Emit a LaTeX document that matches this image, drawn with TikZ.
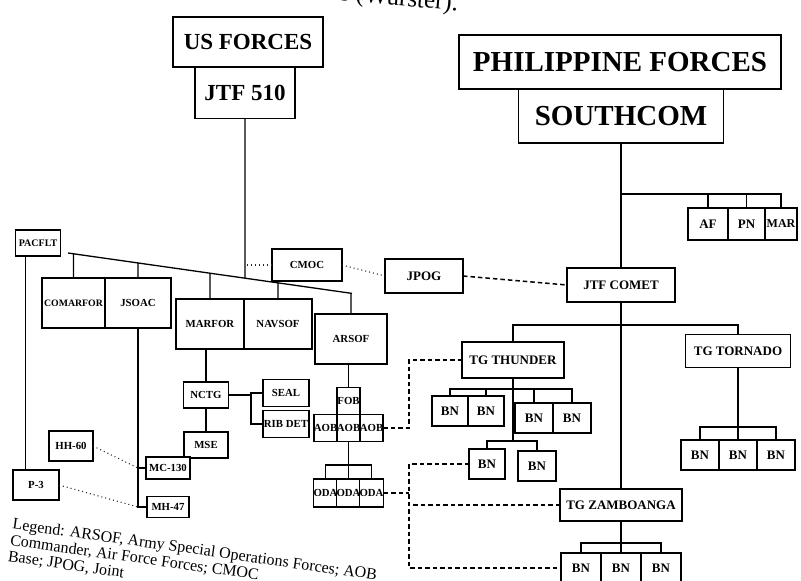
\documentclass[tikz,border=0pt]{standalone}
\usepackage{fontspec}
\setmainfont{Liberation Serif}
\begin{document}
\begin{tikzpicture}[
    x=1pt, y=-1pt,
    box/.style={draw, fill=white, line width=1.5pt, inner sep=0pt, outer sep=0pt, align=center, font=\fontsize{10.8}{12}\selectfont\bfseries},
    tgbox/.style={box, font=\fontsize{13}{15}\selectfont\bfseries},
    topbox/.style={box, line width=1.7pt},
    ln/.style={line width=1.3pt},
    dsh/.style={line width=1.5pt, dash pattern=on 4.5pt off 3pt},
    dot/.style={line width=1.1pt, dash pattern=on 1pt off 3pt, black!85}
]
\useasboundingbox (0,0) rectangle (801,581);
\clip (0,0) rectangle (801,581);

\node[anchor=base east, rotate=-5, font=\fontsize{25}{28}\selectfont] (title) at (461,11) {Operations (Wurster).};

\node[topbox, minimum width=150pt, minimum height=50pt, font=\fontsize{23}{26}\selectfont\bfseries] (usf) at (248,42) {US FORCES};
\node[topbox, minimum width=100pt, minimum height=51pt, font=\fontsize{23}{26}\selectfont\bfseries] (jtf) at (245,93) {JTF 510};
\node[topbox, minimum width=322pt, minimum height=54pt, font=\fontsize{29}{32}\selectfont\bfseries] (phf) at (620,62) {PHILIPPINE FORCES};
\node[topbox, minimum width=205pt, minimum height=54pt, font=\fontsize{29}{32}\selectfont\bfseries] (sc) at (621,116) {SOUTHCOM};

% US side
\node[box, minimum width=45pt, minimum height=26pt, font=\fontsize{10}{11}\selectfont\bfseries] (pacflt) at (38,243) {PACFLT};
\node[box, minimum width=70pt, minimum height=32pt] (cmoc) at (307,265) {CMOC};
\node[tgbox, minimum width=78pt, minimum height=34pt] (jpog) at (424,276) {JPOG};
\node[box, minimum width=63pt, minimum height=50pt, font=\fontsize{9.8}{11}\selectfont\bfseries] (comarfor) at (73.5,303) {COMARFOR};
\node[box, minimum width=66pt, minimum height=50pt] (jsoac) at (138,303) {JSOAC};
\node[box, minimum width=68pt, minimum height=50pt] (marfor) at (210,324) {MARFOR};
\node[box, minimum width=68pt, minimum height=50pt] (navsof) at (278,324) {NAVSOF};
\node[box, minimum width=72pt, minimum height=50pt] (arsof) at (351,339) {ARSOF};
\node[box, minimum width=45pt, minimum height=26pt] (nctg) at (206,395) {NCTG};
\node[box, minimum width=44pt, minimum height=26pt] (mse) at (206,445) {MSE};
\node[box, minimum width=46pt, minimum height=27pt] (seal) at (286,393) {SEAL};
\node[box, minimum width=46pt, minimum height=27pt] (rib) at (286,424) {RIB DET};
\node[box, minimum width=23pt, minimum height=27pt] (fob) at (348.5,401) {FOB};
\foreach \n/\x in {aob1/325.5, aob2/348.5, aob3/371.5}
  \node[box, minimum width=23pt, minimum height=27pt] (\n) at (\x,428) {AOB};
\foreach \n/\x in {oda1/325.5, oda2/348.5, oda3/371.5}
  \node[box, minimum width=23pt, minimum height=28pt] (\n) at (\x,493) {ODA};
\node[box, minimum width=44pt, minimum height=30pt] (hh60) at (71,446) {HH-60};
\node[box, minimum width=46pt, minimum height=30pt] (p3) at (36,485) {P-3};
\node[box, minimum width=44pt, minimum height=22pt] (mc130) at (168,468) {MC-130};
\node[box, minimum width=42pt, minimum height=21pt] (mh47) at (168,507) {MH-47};

% Philippine side
\node[tgbox, minimum width=40pt, minimum height=32pt] (af) at (708,224) {AF};
\node[tgbox, minimum width=37pt, minimum height=32pt] (pn) at (746.5,224) {PN};
\node[tgbox, minimum width=32pt, minimum height=32pt, font=\fontsize{12}{14}\selectfont\bfseries] (mar) at (781,224) {MAR};
\node[tgbox, minimum width=108pt, minimum height=34pt] (jtfc) at (621,285) {JTF COMET};
\node[tgbox, minimum width=102pt, minimum height=36pt] (tgth) at (513,360) {TG THUNDER};
\node[tgbox, minimum width=105pt, minimum height=33pt] (tgto) at (738,351) {TG TORNADO};
\node[tgbox, minimum width=122pt, minimum height=32pt] (tgz) at (621,505) {TG ZAMBOANGA};
\foreach \n/\x/\y/\w in {bn1/450/411/36, bn2/486/411/36, bn3/534/418/38, bn4/572/418/38,
    bn5/487/464/36, bn6/537/466/38, bn7/700/455/38, bn8/738/455/38, bn9/776/455/38,
    bz1/581/568/40, bz2/621/568/40, bz3/661/568/40}
  \node[tgbox, minimum width=\w pt, minimum height=30pt] (\n) at (\x,\y) {BN};

% US links
\coordinate (b1l) at (68,253);
\coordinate (b1r) at (352,293.4);
\draw[ln] (b1l) -- (b1r);
\draw[ln] (jtf.south) -- (intersection of jtf.south--jtf.north and b1l--b1r);
\foreach \n in {comarfor,jsoac,marfor,navsof,arsof}
  \draw[ln] (\n.north) -- (intersection of \n.north--\n.south and b1l--b1r);
\draw[dot] (cmoc.west) -- (cmoc.west -| jtf.south);
\draw[dot] (cmoc.east) -- (jpog.west);
\draw[dsh] (jpog.east) -- (jtfc.west);
\coordinate (pv) at ([xshift=10pt]pacflt.south west);
\draw[ln] (pv) -- (pv |- p3.north);
\draw[ln] (jsoac.south) |- (mh47.west);
\draw[ln] (mc130.west) -- (mc130.west -| jsoac.south);
\draw[dot] (hh60.east) -- (jsoac.south |- mc130.west);
\draw[dot] (p3.east) -- (jsoac.south |- mh47.west);
\draw[ln] (nctg.north) -- (nctg.north |- marfor.south);
\draw[ln] (nctg.south) -- (mse.north);
\coordinate (sbr) at (251,400);
\draw[ln] (nctg.east) -- (nctg.east -| sbr);
\draw[ln] (seal.west) -- (seal.west -| sbr) -- (rib.west -| sbr) -- (rib.west);
\draw[ln] (fob.north) -- (fob.north |- arsof.south);
\coordinate (odab) at (0,465);
\draw[ln] (aob2.south) -- (oda2.north);
\draw[ln] (oda1.north) |- (oda3.north |- odab) -- (oda3.north);

% liaison lines
\coordinate (dv) at (409,0);
\draw[dsh] (aob3.east) -| (tgth.west -| dv) -- (tgth.west);
\draw[dsh] (oda3.east) -- (oda3.east -| dv);
\draw[dsh] (bn5.west) -| (dv |- bz1.west) -- (bz1.west);
\draw[dsh] (tgz.west) -- (tgz.west -| dv);

% Philippine links
\draw[ln] (sc.south) -- (jtfc.north);
\coordinate (afb) at (0,194);
\draw[ln] (sc.south |- afb) -| (mar.north);
\draw[ln] (af.north) -- (af.north |- afb);
\draw[ln] (pn.north) -- (pn.north |- afb);
\draw[ln] (jtfc.south) -- (tgz.north);
\coordinate (tgb) at (0,325);
\draw[ln] (tgth.north) |- (tgto.north |- tgb) -- (tgto.north);
\coordinate (r1) at (0,389);
\coordinate (r2) at (0,441);
\draw[ln] (tgth.south) -- (tgth.south |- r2);
\draw[ln] (bn1.north) |- (bn4.north |- r1) -- (bn4.north);
\foreach \n in {bn2,bn3}
  \draw[ln] (\n.north) -- (\n.north |- r1);
\draw[ln] (bn5.north) |- (bn6.north |- r2) -- (bn6.north);
\coordinate (r3) at (0,427);
\draw[ln] (tgto.south) -- (bn8.north);
\draw[ln] (bn7.north) |- (bn9.north |- r3) -- (bn9.north);
\coordinate (r4) at (0,543);
\draw[ln] (tgz.south) -- (bz2.north);
\draw[ln] (bz1.north) |- (bz3.north |- r4) -- (bz3.north);

% legend
\node[anchor=north west, rotate=-8, align=left, inner sep=0pt, font=\fontsize{16}{16.5}\selectfont] (legend) at (13.6,517.5)
  {Legend: ARSOF, Army Special Operations Forces; AOB\\Commander, Air Force Forces; CMOC\\Base; JPOG, Joint};
\end{tikzpicture}
\end{document}
